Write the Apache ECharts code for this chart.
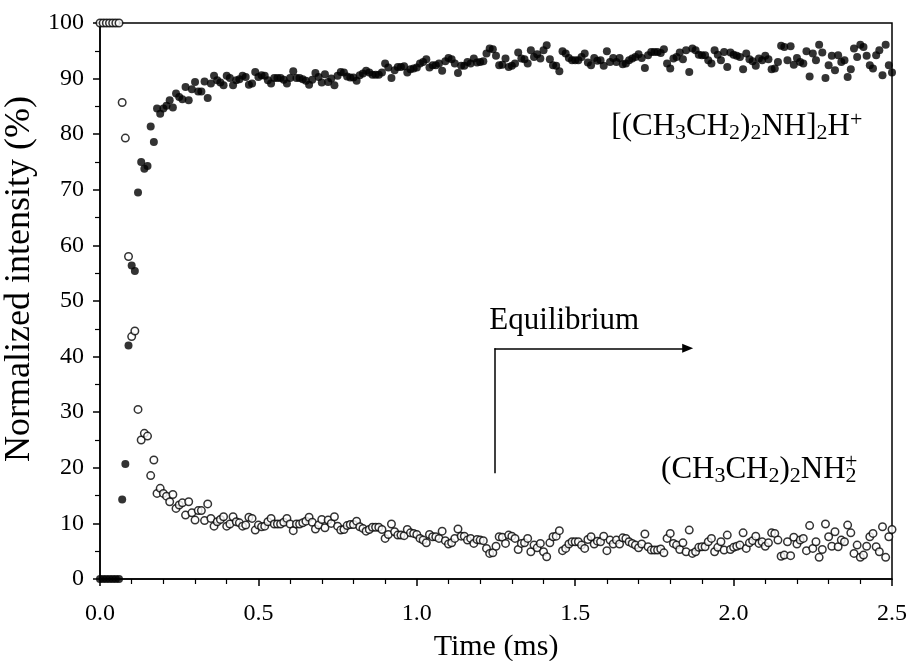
<!DOCTYPE html>
<html><head><meta charset="utf-8">
<script src="https://cdn.jsdelivr.net/npm/echarts@6/dist/echarts.min.js"></script>
<style>html,body{margin:0;padding:0;background:#fff}#c{width:907px;height:661px}</style>
</head><body><div id="c"></div>
<script>
// Time (ms)
const TIME_MS = [
0,0.01,0.02,0.03,0.04,0.05,0.06,0.07,0.08,0.09,
0.1,0.11,0.12,0.13,0.14,0.15,0.16,0.17,0.18,0.19,
0.2,0.21,0.22,0.23,0.24,0.25,0.26,0.27,0.28,0.29,
0.3,0.31,0.32,0.33,0.34,0.35,0.36,0.37,0.38,0.39,
0.4,0.41,0.42,0.43,0.44,0.45,0.46,0.47,0.48,0.49,
0.5,0.51,0.52,0.53,0.54,0.55,0.56,0.57,0.58,0.59,
0.6,0.61,0.62,0.63,0.64,0.65,0.66,0.67,0.68,0.69,
0.7,0.71,0.72,0.73,0.74,0.75,0.76,0.77,0.78,0.79,
0.8,0.81,0.82,0.83,0.84,0.85,0.86,0.87,0.88,0.89,
0.9,0.91,0.92,0.93,0.94,0.95,0.96,0.97,0.98,0.99,
1.0,1.01,1.02,1.03,1.04,1.05,1.06,1.07,1.08,1.09,
1.1,1.11,1.12,1.13,1.14,1.15,1.16,1.17,1.18,1.19,
1.2,1.21,1.22,1.23,1.24,1.25,1.26,1.27,1.28,1.29,
1.3,1.31,1.32,1.33,1.34,1.35,1.36,1.37,1.38,1.39,
1.4,1.41,1.42,1.43,1.44,1.45,1.46,1.47,1.48,1.49,
1.5,1.51,1.52,1.53,1.54,1.55,1.56,1.57,1.58,1.59,
1.6,1.61,1.62,1.63,1.64,1.65,1.66,1.67,1.68,1.69,
1.7,1.71,1.72,1.73,1.74,1.75,1.76,1.77,1.78,1.79,
1.8,1.81,1.82,1.83,1.84,1.85,1.86,1.87,1.88,1.89,
1.9,1.91,1.92,1.93,1.94,1.95,1.96,1.97,1.98,1.99,
2.0,2.01,2.02,2.03,2.04,2.05,2.06,2.07,2.08,2.09,
2.1,2.11,2.12,2.13,2.14,2.15,2.16,2.17,2.18,2.19,
2.2,2.21,2.22,2.23,2.24,2.25,2.26,2.27,2.28,2.29,
2.3,2.31,2.32,2.33,2.34,2.35,2.36,2.37,2.38,2.39,
2.4,2.41,2.42,2.43,2.44,2.45,2.46,2.47,2.48,2.49,
2.5];

// (CH3CH2)2NH2+ normalized intensity (%) — open circles
const MONOMER = [
100,100,100,100,100,100,100,85.7,79.3,58.0,
43.6,44.6,30.5,25.0,26.2,25.7,18.6,21.4,15.4,16.3,
15.4,14.9,13.9,15.2,12.7,13.3,13.7,11.5,13.9,11.9,
10.6,12.3,12.3,10.5,13.5,10.9,9.5,10.3,10.7,11.2,
9.5,9.9,11.2,10.3,10.1,9.5,9.7,11.1,10.9,8.8,
9.7,9.4,9.5,10.3,10.9,9.9,9.9,9.9,10.2,10.9,
9.9,8.7,9.9,9.9,10.1,10.4,11.1,10.2,9.0,9.7,
10.7,9.2,10.6,10.0,11.2,9.5,8.8,8.9,9.6,9.8,
9.8,10.4,9.4,9.1,8.6,8.9,9.3,9.3,9.3,8.9,
7.3,8.0,9.9,8.5,7.9,7.9,7.8,8.9,8.3,8.2,
8.0,7.3,7.0,6.5,8.0,7.6,7.6,7.3,8.6,6.9,
6.3,6.5,7.3,9.0,7.7,7.7,7.0,7.3,6.4,7.1,
7.0,6.9,5.5,4.6,4.7,5.9,7.6,7.5,6.4,7.9,
7.7,7.3,5.3,6.4,6.5,7.3,4.9,6.1,5.6,6.4,
4.9,4.0,6.5,7.6,7.7,8.7,5.1,5.5,6.3,6.7,
6.7,6.7,6.1,5.5,7.1,7.6,6.3,6.8,6.7,7.7,
5.1,7.0,6.3,7.0,6.3,7.4,7.3,6.7,6.4,6.1,
5.6,6.3,8.1,5.8,5.2,5.2,5.2,5.4,4.7,7.3,
8.2,6.4,6.1,5.3,6.5,4.9,8.8,4.6,4.9,5.7,
5.8,5.8,6.7,7.3,4.9,5.7,6.7,5.2,7.9,5.3,
5.7,5.9,6.1,8.3,5.5,6.5,6.9,7.7,6.4,6.7,
5.9,6.5,8.3,8.2,7.0,4.1,4.3,6.7,4.2,7.5,
6.3,7.0,7.3,5.1,9.6,5.5,6.7,3.9,5.3,9.9,
7.6,5.9,8.5,5.8,7.0,6.7,9.7,8.3,4.6,6.1,
3.9,4.3,5.9,7.6,8.2,5.8,4.9,9.4,3.9,7.6,
8.9];

// [(CH3CH2)2NH]2H+ normalized intensity (%) — filled circles
const DIMER = [
0,0,0,0,0,0,0,14.3,20.7,42.0,
56.4,55.4,69.5,75.0,73.8,74.3,81.4,78.6,84.6,83.7,
84.6,85.1,86.1,84.8,87.3,86.7,86.3,88.5,86.1,88.1,
89.4,87.7,87.7,89.5,86.5,89.1,90.5,89.7,89.3,88.8,
90.5,90.1,88.8,89.7,89.9,90.5,90.3,88.9,89.1,91.2,
90.3,90.6,90.5,89.7,89.1,90.1,90.1,90.1,89.8,89.1,
90.1,91.3,90.1,90.1,89.9,89.6,88.9,89.8,91.0,90.3,
89.3,90.8,89.4,90.0,88.8,90.5,91.2,91.1,90.4,90.2,
90.2,89.6,90.6,90.9,91.4,91.1,90.7,90.7,90.7,91.1,
92.7,92.0,90.1,91.5,92.1,92.1,92.2,91.1,91.7,91.8,
92.0,92.7,93.0,93.5,92.0,92.4,92.4,92.7,91.4,93.1,
93.7,93.5,92.7,91.0,92.3,92.3,93.0,92.7,93.6,92.9,
93.0,93.1,94.5,95.4,95.3,94.1,92.4,92.5,93.6,92.1,
92.3,92.7,94.7,93.6,93.5,92.7,95.1,93.9,94.4,93.6,
95.1,96.0,93.5,92.4,92.3,91.3,94.9,94.5,93.7,93.3,
93.3,93.3,93.9,94.5,92.9,92.4,93.7,93.2,93.3,92.3,
94.9,93.0,93.7,93.0,93.7,92.6,92.7,93.3,93.6,93.9,
94.4,93.7,91.9,94.2,94.8,94.8,94.8,94.6,95.3,92.7,
91.8,93.6,93.9,94.7,93.5,95.1,91.2,95.4,95.1,94.3,
94.2,94.2,93.3,92.7,95.1,94.3,93.3,94.8,92.1,94.7,
94.3,94.1,93.9,91.7,94.5,93.5,93.1,92.3,93.6,93.3,
94.1,93.5,91.7,91.8,93.0,95.9,95.7,93.3,95.8,92.5,
93.7,93.0,92.7,94.9,90.4,94.5,93.3,96.1,94.7,90.1,
92.4,94.1,91.5,94.2,93.0,93.3,90.3,91.7,95.4,93.9,
96.1,95.7,94.1,92.4,91.8,94.2,95.1,90.6,96.1,92.4,
91.1];

const X_LABEL = 'Time (ms)';
const Y_LABEL = 'Normalized intensity (%)';
const EQ_TEXT = 'Equilibrium';

const FONT = '"Liberation Serif", "Times New Roman", serif';
const chart = echarts.init(document.getElementById('c'), null, {renderer: 'canvas'});

const pairs = (ys) => TIME_MS.map((t, i) => [t, ys[i]]);

// annotation anchors in data coordinates
const ARROW = {x: 1.245, y0: 19, y1: 41.5, x1: 1.855};

chart.setOption({
  animation: false,
  backgroundColor: '#fff',
  grid: {left: 100, right: 15, top: 23, bottom: 82, outerBoundsMode: 'none', containLabel: false,
         show: true, borderColor: '#000', borderWidth: 1.5, backgroundColor: 'transparent'},
  xAxis: {
    type: 'value', min: 0, max: 2.5, interval: 0.5,
    name: X_LABEL, nameLocation: 'middle', nameGap: 53,
    nameTextStyle: {fontFamily: FONT, fontSize: 30, color: '#000'},
    axisLine: {show: true, onZero: false, lineStyle: {color: '#000', width: 1.5}},
    axisTick: {show: true, inside: false, length: 7, lineStyle: {color: '#000', width: 1.5}},
    minorTick: {show: true, splitNumber: 5, length: 5, lineStyle: {color: '#000', width: 1.2}},
    axisLabel: {fontFamily: FONT, fontSize: 24, color: '#000', margin: 23, formatter: v => v.toFixed(1)},
    splitLine: {show: false}
  },
  yAxis: {
    type: 'value', min: 0, max: 100, interval: 10,
    name: Y_LABEL, nameLocation: 'middle', nameGap: 59,
    nameTextStyle: {fontFamily: FONT, fontSize: 36, color: '#000', padding: [0, 0, 0, 44]},
    axisLine: {show: true, onZero: false, lineStyle: {color: '#000', width: 1.5}},
    axisTick: {show: true, inside: false, length: 7, lineStyle: {color: '#000', width: 1.5}},
    minorTick: {show: true, splitNumber: 2, length: 5, lineStyle: {color: '#000', width: 1.2}},
    axisLabel: {fontFamily: FONT, fontSize: 24, color: '#000', margin: 16},
    splitLine: {show: false}
  },
  series: [
    {
      name: 'monomer', type: 'scatter', data: pairs(MONOMER), clip: false,
      symbol: 'circle', symbolSize: 7.5,
      itemStyle: {color: '#fff', borderColor: '#000', borderWidth: 1.5},
      silent: true
    },
    {
      name: 'dimer', type: 'scatter', data: pairs(DIMER), clip: false,
      symbol: 'circle', symbolSize: 8,
      itemStyle: {color: '#000'},
      silent: true,
      markLine: {
        silent: true, animation: false, symbol: ['none', 'none'],
        label: {show: false},
        lineStyle: {color: '#000', width: 1.5, type: 'solid'},
        emphasis: {disabled: true},
        data: [
          [{coord: [ARROW.x, ARROW.y0], symbol: 'none'}, {coord: [ARROW.x, ARROW.y1], symbol: 'none'}],
          [{coord: [ARROW.x, ARROW.y1], symbol: 'none'}, {coord: [ARROW.x1, ARROW.y1], symbol: 'triangle', symbolSize: [9, 11]}]
        ]
      }
    }
  ]
});

// text annotations, anchored via data coordinates
const ctx = document.createElement('canvas').getContext('2d');
function w(txt, size) { ctx.font = size + 'px ' + FONT; return ctx.measureText(txt).width; }
const BASE = 31, SUB = 22;
const rich = {
  b: {fontFamily: FONT, fontSize: BASE, lineHeight: 35, fill: '#000', verticalAlign: 'middle'},
  s: {fontFamily: FONT, fontSize: SUB, lineHeight: 21, fill: '#000', verticalAlign: 'bottom'},
  p: {fontFamily: FONT, fontSize: SUB, lineHeight: 21, fill: '#000', verticalAlign: 'top'}
};
const p1 = chart.convertToPixel({gridIndex: 0}, [1.614, 81.3]);
const p2 = chart.convertToPixel({gridIndex: 0}, [1.771, 19.6]);
const p3 = chart.convertToPixel({gridIndex: 0}, [1.229, 46.4]);
const w2 = w('(CH', BASE) + w('3', SUB) + w('CH', BASE) + w('2', SUB) + w(')', BASE) + w('2', SUB) + w('NH', BASE) + w('2', SUB);
chart.setOption({
  graphic: [
    {type: 'text', x: p1[0], y: p1[1], silent: true,
     style: {text: '{b|[(CH}{s|3}{b|CH}{s|2}{b|)}{s|2}{b|NH]}{s|2}{b|H}{p|+}', rich: rich, textAlign: 'left', textVerticalAlign: 'middle', fill: '#000'}},
    {type: 'text', x: p2[0], y: p2[1], silent: true,
     style: {text: '{b|(CH}{s|3}{b|CH}{s|2}{b|)}{s|2}{b|NH}{s|2}', rich: rich, textAlign: 'left', textVerticalAlign: 'middle', fill: '#000'}},
    {type: 'text', x: p2[0] + w2 - w('2', SUB) / 2, y: p2[1] - 19, silent: true,
     style: {text: '+', font: SUB + 'px ' + FONT, textAlign: 'center', textVerticalAlign: 'top', fill: '#000'}},
    {type: 'text', x: p3[0], y: p3[1], silent: true,
     style: {text: EQ_TEXT, font: '31px ' + FONT, textAlign: 'left', textVerticalAlign: 'middle', fill: '#000'}}
  ]
});
</script>
</body></html>
